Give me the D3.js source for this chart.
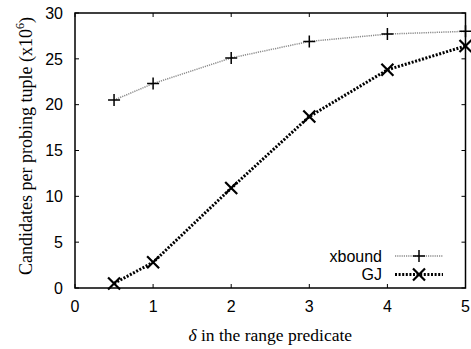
<!DOCTYPE html>
<html><head><meta charset="utf-8">
<script src="https://cdn.jsdelivr.net/npm/d3@7"></script>
<style>body{margin:0;background:#fff}svg{display:block}</style>
</head><body>
<script>
const xValues = [0.5, 1, 2, 3, 4, 5];
const xboundValues = [20.5, 22.3, 25.1, 26.9, 27.7, 28.0];
const gjValues = [0.5, 2.8, 10.9, 18.7, 23.8, 26.4];
const xTicks = [0, 1, 2, 3, 4, 5];
const yTicks = [0, 5, 10, 15, 20, 25, 30];
const seriesNames = ["xbound", "GJ"];

const W = 471, H = 349;
const m = {left: 75, right: 5.5, top: 13, bottom: 61};
const svg = d3.select("body").append("svg").attr("width", W).attr("height", H);
const x = d3.scaleLinear().domain([0, 5]).range([m.left, W - m.right]);
const y = d3.scaleLinear().domain([0, 30]).range([H - m.bottom, m.top]);

const sans = "'Liberation Sans', Arial, sans-serif";
const serif = "'Liberation Serif', 'Times New Roman', serif";
const tickLen = 4;

// ticks (mirrored inward on all sides)
const gAx = svg.append("g").attr("stroke", "#000").attr("stroke-width", 1);
xTicks.forEach(t => {
  gAx.append("line").attr("x1", x(t)).attr("x2", x(t)).attr("y1", y(0)).attr("y2", y(0) - tickLen);
  gAx.append("line").attr("x1", x(t)).attr("x2", x(t)).attr("y1", y(30)).attr("y2", y(30) + tickLen);
});
yTicks.forEach(t => {
  gAx.append("line").attr("x1", x(0)).attr("x2", x(0) + tickLen).attr("y1", y(t)).attr("y2", y(t));
  gAx.append("line").attr("x1", x(5)).attr("x2", x(5) - tickLen).attr("y1", y(t)).attr("y2", y(t));
});

// tick labels
svg.append("g").selectAll("text").data(xTicks).join("text")
  .attr("x", d => x(d)).attr("y", y(0) + 23.5)
  .attr("text-anchor", "middle").attr("font-family", sans).attr("font-size", 16)
  .text(d => d);
svg.append("g").selectAll("text").data(yTicks).join("text")
  .attr("x", x(0) - 12).attr("y", d => y(d)).attr("dy", "0.36em")
  .attr("text-anchor", "end").attr("font-family", sans).attr("font-size", 16)
  .text(d => d);

// frame
svg.append("rect").attr("x", x(0)).attr("y", y(30))
  .attr("width", x(5) - x(0)).attr("height", y(0) - y(30))
  .attr("fill", "none").attr("stroke", "#000").attr("stroke-width", 1.5);

// axis titles
const xt = svg.append("text").attr("x", (x(0) + x(5)) / 2).attr("y", 341)
  .attr("text-anchor", "middle").attr("font-family", serif).attr("font-size", 17.5);
xt.append("tspan").attr("font-style", "italic").text("δ");
xt.append("tspan").text(" in the range predicate");

const yt = svg.append("text")
  .attr("transform", `translate(32,146) rotate(-90)`)
  .attr("text-anchor", "middle").attr("font-family", serif).attr("font-size", 18);
yt.append("tspan").text("Candidates per probing tuple (x10");
yt.append("tspan").attr("dy", -8).attr("font-size", 12).text("6");
yt.append("tspan").attr("dy", 8).text(")");

// series
const line = d3.line().x(d => x(d[0])).y(d => y(d[1]));
const xbData = xValues.map((v, i) => [v, xboundValues[i]]);
const gjData = xValues.map((v, i) => [v, gjValues[i]]);

const styles = [
  {stroke: "#8a8a8a", width: 1.5, dash: "1.2,1"},
  {stroke: "#000", width: 3, dash: "2,1.6"}
];

function plus(g, cx, cy, s) {
  g.append("path").attr("d", `M${cx - s},${cy}H${cx + s}M${cx},${cy - s}V${cy + s}`)
    .attr("stroke", "#000").attr("stroke-width", 1.5).attr("fill", "none");
}
function cross(g, cx, cy, s) {
  g.append("path").attr("d", `M${cx - s},${cy - s}L${cx + s},${cy + s}M${cx - s},${cy + s}L${cx + s},${cy - s}`)
    .attr("stroke", "#000").attr("stroke-width", 2.2).attr("fill", "none");
}

svg.append("path").datum(xbData).attr("d", line).attr("fill", "none")
  .attr("stroke", styles[0].stroke).attr("stroke-width", styles[0].width).attr("stroke-dasharray", styles[0].dash);
svg.append("path").datum(gjData).attr("d", line).attr("fill", "none")
  .attr("stroke", styles[1].stroke).attr("stroke-width", styles[1].width).attr("stroke-dasharray", styles[1].dash);

const gm = svg.append("g");
xbData.forEach(d => plus(gm, x(d[0]), y(d[1]), 6));
gjData.forEach(d => cross(gm, x(d[0]), y(d[1]), 6));

// legend
const legY = [256, 274.5];
seriesNames.forEach((name, i) => {
  svg.append("text").attr("x", 382).attr("y", legY[i]).attr("dy", "0.36em")
    .attr("text-anchor", "end").attr("font-family", sans).attr("font-size", 16).text(name);
  svg.append("line").attr("x1", 395).attr("x2", 443).attr("y1", legY[i]).attr("y2", legY[i])
    .attr("stroke", styles[i].stroke).attr("stroke-width", styles[i].width).attr("stroke-dasharray", styles[i].dash);
  if (i === 0) plus(svg, 419, legY[i], 6); else cross(svg, 419, legY[i], 6);
});
</script>
</body></html>
